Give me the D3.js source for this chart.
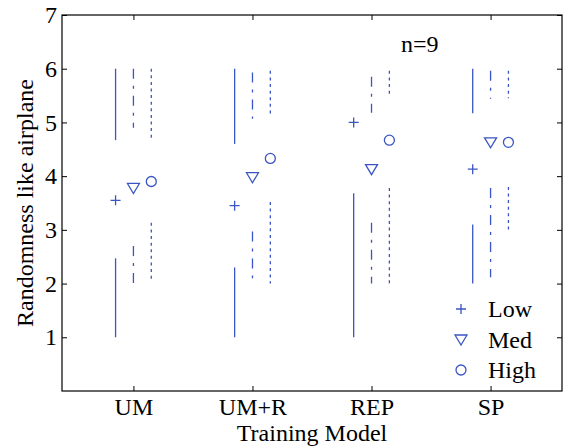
<!DOCTYPE html>
<html>
<head>
<meta charset="utf-8">
<script src="https://cdn.jsdelivr.net/npm/d3@7"></script>
</head>
<body style="margin:0">
<svg id="chart"></svg>
<script>
// Training models on the x axis
const categories = ['UM', 'UM+R', 'REP', 'SP'];
const yTicks = [1, 2, 3, 4, 5, 6, 7];

// mean markers per level
const lowMean = [3.55, 3.45, 5.0, 4.13];
const medMean = [3.78, 3.98, 4.13, 4.63];
const highMean = [3.9, 4.33, 4.67, 4.63];

// upper segment [from, to] per level (null = not drawn)
const lowUpper = [[4.67, 6.0], [4.6, 6.0], null, [5.17, 6.0]];
const medUpper = [[4.9, 6.0], [5.07, 5.93], [5.18, 5.85], [5.44, 5.96]];
const highUpper = [[4.67, 6.0], [5.15, 5.96], [5.53, 5.96], [5.45, 5.96]];

// lower segment [from, to] per level
const lowLower = [[1.0, 2.47], [1.0, 2.3], [1.0, 3.68], [2.0, 3.1]];
const medLower = [[2.0, 2.7], [2.1, 2.97], [2.0, 3.13], [2.12, 3.78]];
const highLower = [[2.07, 3.13], [2.0, 3.52], [2.0, 3.78], [3.0, 3.8]];

const legendLabels = ['Low', 'Med', 'High'];

const fontFam = "'Liberation Serif', 'Times New Roman', serif";

function drawChart() {
    const width = 566;
    const height = 446;
    const padding = { top: 15, right: 4, bottom: 55, left: 62 };
    const blue = '#3a55c4';
    const fontSize = '24px';

    const svg = d3.select('#chart')
        .attr('width', width)
        .attr('height', height);

    // scales
    const x = d3.scaleLinear()
        .domain([0.4, 4.6])
        .range([padding.left, width - padding.right]);
    const y = d3.scaleLinear()
        .domain([0, 7])
        .range([height - padding.bottom, padding.top]);

    const offset = 0.15;

    const levels = [
        { mean: lowMean, upper: lowUpper, lower: lowLower, dx: -offset, dash: null, marker: 'plus' },
        { mean: medMean, upper: medUpper, lower: medLower, dx: 0, dash: '10,7,3,7', marker: 'tri' },
        { mean: highMean, upper: highUpper, lower: highLower, dx: offset, dash: '3,3.6', marker: 'circle' }
    ];

    // axes (ticks point inward like matlab)
    svg.append('g')
        .attr('transform', `translate(${padding.left},0)`)
        .call(d3.axisLeft(y).tickValues(yTicks).tickSizeInner(-5).tickSizeOuter(0).tickPadding(5)
            .tickFormat(d3.format('d')))
        .call(g => g.select('.domain').remove())
        .selectAll('text')
        .style('font-family', fontFam)
        .style('font-size', fontSize)
        .attr('fill', '#000');

    svg.append('g')
        .attr('transform', `translate(${width - padding.right},0)`)
        .call(d3.axisRight(y).tickValues(yTicks).tickSizeInner(-5).tickSizeOuter(0).tickFormat(''))
        .call(g => g.select('.domain').remove());

    svg.append('g')
        .attr('transform', `translate(0,${height - padding.bottom})`)
        .call(d3.axisBottom(x).tickValues([1, 2, 3, 4]).tickSizeInner(-5).tickSizeOuter(0).tickPadding(7)
            .tickFormat((d, i) => categories[i]))
        .call(g => g.select('.domain').remove())
        .selectAll('text')
        .style('font-family', fontFam)
        .style('font-size', fontSize)
        .attr('fill', '#000');

    svg.append('g')
        .attr('transform', `translate(0,${padding.top})`)
        .call(d3.axisTop(x).tickValues([1, 2, 3, 4]).tickSizeInner(-5).tickSizeOuter(0).tickFormat(''))
        .call(g => g.select('.domain').remove());

    // box
    svg.append('rect')
        .attr('x', padding.left)
        .attr('y', padding.top)
        .attr('width', width - padding.right - padding.left)
        .attr('height', height - padding.bottom - padding.top)
        .attr('fill', 'none')
        .attr('stroke', '#000')
        .attr('stroke-width', 1.2);

    // segments and markers
    levels.forEach(lv => {
        const segs = [];
        categories.forEach((c, i) => {
            if (lv.upper[i]) segs.push({ i: i, v: lv.upper[i] });
            if (lv.lower[i]) segs.push({ i: i, v: lv.lower[i] });
        });

        svg.append('g').selectAll('line')
            .data(segs)
            .enter().append('line')
            .attr('x1', d => x(d.i + 1 + lv.dx))
            .attr('x2', d => x(d.i + 1 + lv.dx))
            .attr('y1', d => y(d.v[1]))
            .attr('y2', d => y(d.v[0]))
            .attr('stroke', blue)
            .attr('stroke-width', 1.3)
            .attr('stroke-dasharray', lv.dash);

        const g = svg.append('g').selectAll('g')
            .data(lv.mean)
            .enter().append('g')
            .attr('transform', (d, i) => `translate(${x(i + 1 + lv.dx)},${y(d)})`);
        drawMarker(g, lv.marker, blue);
    });

    // legend
    const legend = svg.append('g');
    legendLabels.forEach((lab, i) => {
        const ly = 309 + i * 30.5;
        const m = legend.append('g').attr('transform', `translate(461,${ly})`);
        drawMarker(m, levels[i].marker, blue);
        legend.append('text')
            .attr('x', 488)
            .attr('y', ly + 8)
            .style('font-family', fontFam)
            .style('font-size', fontSize)
            .text(lab);
    });

    // n=9 note
    svg.append('text')
        .attr('x', 401)
        .attr('y', 52)
        .style('font-family', fontFam)
        .style('font-size', fontSize)
        .text('n=9');

    // axis titles
    svg.append('text')
        .text('Training Model')
        .attr('x', (padding.left + width - padding.right) / 2)
        .attr('y', 441)
        .style('text-anchor', 'middle')
        .style('font-family', fontFam)
        .style('font-size', fontSize);

    svg.append('text')
        .text('Randomness like airplane')
        .attr('x', -(padding.top + height - padding.bottom) / 2)
        .attr('y', 33)
        .attr('transform', 'rotate(-90)')
        .style('text-anchor', 'middle')
        .style('font-family', fontFam)
        .style('font-size', fontSize);
}

function drawMarker(sel, type, color) {
    if (type === 'plus') {
        sel.append('path')
            .attr('d', 'M-5,0H5M0,-5V5')
            .attr('stroke', color)
            .attr('stroke-width', 1.3)
            .attr('fill', 'none');
    } else if (type === 'tri') {
        sel.append('path')
            .attr('d', 'M-6,-4.5L6,-4.5L0,5.5Z')
            .attr('stroke', color)
            .attr('stroke-width', 1.3)
            .attr('fill', 'none');
    } else {
        sel.append('circle')
            .attr('r', 5)
            .attr('stroke', color)
            .attr('stroke-width', 1.3)
            .attr('fill', 'none');
    }
}

window.addEventListener('load', drawChart);
</script>
</body>
</html>
